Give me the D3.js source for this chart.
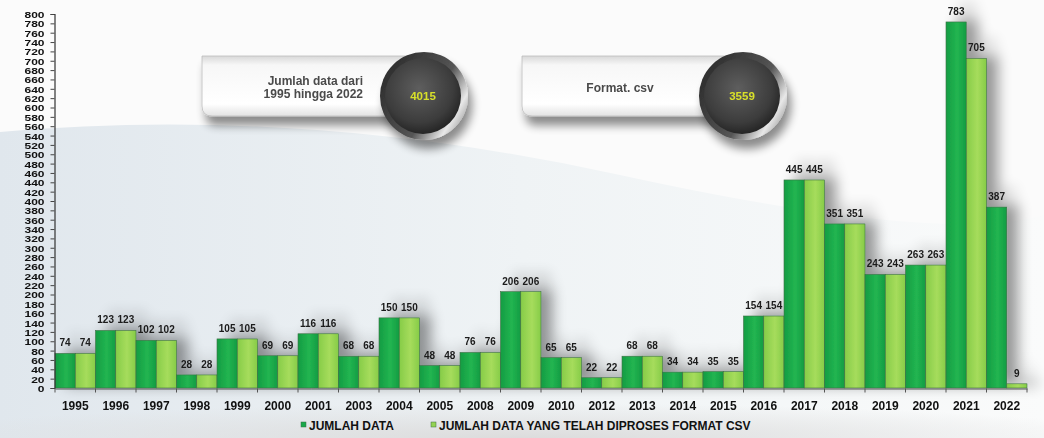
<!DOCTYPE html>
<html>
<head>
<meta charset="utf-8">
<script src="https://cdn.jsdelivr.net/npm/d3@7/dist/d3.min.js"></script>
<style>
  body { margin: 0; background: #fff; }
  svg { display: block; font-family: "Liberation Sans", Arial, sans-serif; }
</style>
</head>
<body>
<svg width="1044" height="438"></svg>
<script>
// data
var years = ["1995", "1996", "1997", "1998", "1999", "2000", "2001", "2003", "2004", "2005", "2008", "2009",
  "2010", "2012", "2013", "2014", "2015", "2016", "2017", "2018", "2019", "2020", "2021", "2022"];
var jumlahData = [74, 123, 102, 28, 105, 69, 116, 68, 150, 48, 76, 206, 65, 22, 68, 34, 35, 154, 445, 351, 243, 263, 783, 387];
var csvData = [74, 123, 102, 28, 105, 69, 116, 68, 150, 48, 76, 206, 65, 22, 68, 34, 35, 154, 445, 351, 243, 263, 705, 9];
var seriesNames = ["JUMLAH DATA", "JUMLAH DATA YANG TELAH DIPROSES FORMAT CSV"];
var badgeTexts = [["Jumlah data dari", "1995 hingga 2022"], ["Format. csv"]];
var badgeValues = ["4015", "3559"];

var svg = d3.select("svg");
var defs = svg.append("defs");

// background
var bg = defs.append("linearGradient").attr("id", "bgSwoosh").attr("x1", 0).attr("x2", 1).attr("y1", 0).attr("y2", 0);
bg.append("stop").attr("offset", 0).attr("stop-color", "#e0e7ed");
bg.append("stop").attr("offset", 0.5).attr("stop-color", "#eff3f5");
bg.append("stop").attr("offset", 1).attr("stop-color", "#fafbfb");
var bgBottom = defs.append("radialGradient").attr("id", "bgBottom").attr("cx", 0.5).attr("cy", 1).attr("r", 0.6);
bgBottom.append("stop").attr("offset", 0).attr("stop-color", "#dcdcdc");
bgBottom.append("stop").attr("offset", 1).attr("stop-color", "#dcdcdc").attr("stop-opacity", 0);

svg.append("rect").attr("width", 1044).attr("height", 438).attr("fill", "#fbfbfb");
svg.append("path").attr("d", "M0,132 Q300,105 620,175 T1044,215 L1044,438 L0,438 Z").attr("fill", "url(#bgSwoosh)");
svg.append("rect").attr("x", 0).attr("y", 380).attr("width", 1044).attr("height", 58).attr("fill", "url(#bgBottom)");

// gradients for bars
function barGrad(id, edge, mid) {
  var g = defs.append("linearGradient").attr("id", id).attr("x1", 0).attr("x2", 1).attr("y1", 0).attr("y2", 0);
  g.append("stop").attr("offset", 0).attr("stop-color", edge);
  g.append("stop").attr("offset", 0.55).attr("stop-color", mid);
  g.append("stop").attr("offset", 1).attr("stop-color", edge);
}
barGrad("gDark", "#149c42", "#22b551");
barGrad("gLight", "#86cc48", "#a6dc5c");
var colors = ["url(#gDark)", "url(#gLight)"];
var legendColors = ["#1aa84a", "#94d352"];

var shadow = defs.append("filter").attr("id", "shadow").attr("x", -0.5).attr("y", -0.5).attr("width", 2).attr("height", 2);
shadow.append("feGaussianBlur").attr("in", "SourceAlpha").attr("stdDeviation", 7);
shadow.append("feOffset").attr("dx", 11).attr("dy", -3).attr("result", "ob");
shadow.append("feComponentTransfer").append("feFuncA").attr("type", "linear").attr("slope", 0.4);
var sm = shadow.append("feMerge");
sm.append("feMergeNode");
sm.append("feMergeNode").attr("in", "SourceGraphic");

var x = d3.scaleBand().domain(years).range([55, 1027]).padding(0);
var xs = d3.scaleBand().domain([0, 1]).range([0, x.bandwidth()]).padding(0);
var y = d3.scaleLinear().domain([0, 800]).range([388, 14]);

// bars
var rows = years.map(function (yr, i) { return { year: yr, vals: [jumlahData[i], csvData[i]] }; });
var barLayer = svg.append("g").attr("filter", "url(#shadow)");
var grp = barLayer.selectAll("g.yr").data(rows).enter().append("g").attr("class", "yr")
  .attr("transform", function (d) { return "translate(" + x(d.year) + ",0)"; });
grp.selectAll("rect").data(function (d) { return d.vals; }).enter().append("rect")
  .attr("x", function (d, i) { return xs(i); })
  .attr("y", function (d) { return y(d); })
  .attr("width", xs.bandwidth())
  .attr("height", function (d) { return y(0) - y(d); })
  .attr("fill", function (d, i) { return colors[i]; })
  .attr("stroke", "#3d6e45").attr("stroke-width", 0.6);

// value labels
grp.selectAll("text").data(function (d) { return d.vals; }).enter().append("text")
  .attr("x", function (d, i) { return xs(i) + xs.bandwidth() / 2; })
  .attr("y", function (d) { return y(d) - 7; })
  .attr("text-anchor", "middle")
  .attr("font-size", 10).attr("font-weight", "bold").attr("fill", "#1a1a1a")
  .text(function (d) { return d; });

// y axis
var yAxis = svg.append("g").attr("transform", "translate(54.5,0)")
  .call(d3.axisLeft(y).tickValues(d3.range(0, 801, 20)).tickSize(4).tickPadding(6));
yAxis.select(".domain").attr("stroke", "#333").attr("stroke-width", 1.2);
yAxis.selectAll(".tick line").attr("stroke", "#444");
yAxis.selectAll("text").attr("font-size", 12).attr("font-weight", "bold").attr("fill", "#111")
  .attr("font-family", "'Liberation Sans', Arial, sans-serif")
  .attr("dy", "0.36em").attr("transform", "scale(1,0.8)");

// x axis
var xAxis = svg.append("g").attr("transform", "translate(0,388.5)")
  .call(d3.axisBottom(x).tickSize(0).tickPadding(13));
xAxis.select(".domain").attr("stroke", "#555").attr("stroke-width", 1);
xAxis.selectAll("text").attr("font-size", 12).attr("font-weight", "bold").attr("fill", "#111")
  .attr("font-family", "'Liberation Sans', Arial, sans-serif");
xAxis.selectAll("line.sep").data(years.concat(["end"])).enter().append("line").attr("class", "sep")
  .attr("x1", function (d) { return d === "end" ? 1027 : x(d); })
  .attr("x2", function (d) { return d === "end" ? 1027 : x(d); })
  .attr("y1", 0).attr("y2", 4).attr("stroke", "#555");

// legend
var legendX = [301, 431];
var legend = svg.append("g").selectAll("g").data(seriesNames).enter().append("g")
  .attr("transform", function (d, i) { return "translate(" + legendX[i] + ",422)"; });
legend.append("rect").attr("width", 5).attr("height", 5).attr("y", 0)
  .attr("fill", function (d, i) { return legendColors[i]; }).attr("stroke", "#3d6e45").attr("stroke-width", 0.5);
legend.append("text").attr("x", 8).attr("y", 7.5).attr("font-size", 12).attr("font-weight", "bold")
  .attr("fill", "#111").text(function (d) { return d; });

// badges
var bShadow = defs.append("filter").attr("id", "bShadow").attr("x", -0.3).attr("y", -0.3).attr("width", 1.6).attr("height", 1.8);
bShadow.append("feGaussianBlur").attr("in", "SourceAlpha").attr("stdDeviation", 5);
bShadow.append("feOffset").attr("dx", 4).attr("dy", 9).attr("result", "ob");
bShadow.append("feComponentTransfer").append("feFuncA").attr("type", "linear").attr("slope", 0.45);
var bm = bShadow.append("feMerge");
bm.append("feMergeNode");
bm.append("feMergeNode").attr("in", "SourceGraphic");

var panelGrad = defs.append("linearGradient").attr("id", "panel").attr("x1", 0).attr("x2", 0).attr("y1", 0).attr("y2", 1);
panelGrad.append("stop").attr("offset", 0).attr("stop-color", "#d8d8d8");
panelGrad.append("stop").attr("offset", 0.15).attr("stop-color", "#f7f7f7");
panelGrad.append("stop").attr("offset", 0.8).attr("stop-color", "#ffffff");
panelGrad.append("stop").attr("offset", 1).attr("stop-color", "#e2e2e2");

var knob = defs.append("radialGradient").attr("id", "knob").attr("cx", 0.45).attr("cy", 0.4).attr("r", 0.6);
knob.append("stop").attr("offset", 0).attr("stop-color", "#5e5e5e");
knob.append("stop").attr("offset", 0.75).attr("stop-color", "#3c3c3c");
knob.append("stop").attr("offset", 1).attr("stop-color", "#262626");
var ring = defs.append("linearGradient").attr("id", "ring").attr("x1", 0).attr("x2", 1).attr("y1", 0.2).attr("y2", 0.8);
ring.append("stop").attr("offset", 0).attr("stop-color", "#2a2a2a");
ring.append("stop").attr("offset", 0.6).attr("stop-color", "#555");
ring.append("stop").attr("offset", 0.85).attr("stop-color", "#e8e8e8");
ring.append("stop").attr("offset", 1).attr("stop-color", "#9a9a9a");

var badgeX = [202, 522];
var circleX = [424, 743];
var badges = svg.append("g").selectAll("g").data(badgeValues).enter().append("g");
badges.each(function (v, i) {
  var g = d3.select(this);
  var left = badgeX[i], right = circleX[i];
  g.append("path")
    .attr("d", "M" + left + ",56 L" + right + ",56 L" + right + ",116 L" + (left + 10) + ",116 Q" + left + ",116 " + left + ",106 Z")
    .attr("fill", "url(#panel)").attr("stroke", "#bcbcbc").attr("stroke-width", 0.8)
    .attr("filter", "url(#bShadow)");
  var lines = badgeTexts[i];
  g.selectAll("text.lbl").data(lines).enter().append("text").attr("class", "lbl")
    .attr("x", i === 0 ? 363 : 620)
    .attr("y", function (d, j) { return (lines.length === 1 ? 92 : 85) + j * 13; })
    .attr("text-anchor", i === 0 ? "end" : "middle")
    .attr("font-size", 12).attr("font-weight", "bold").attr("fill", "#4a4a4a")
    .text(function (d) { return d; });
  g.append("circle").attr("cx", right).attr("cy", 96).attr("r", 44)
    .attr("fill", "url(#ring)").attr("filter", "url(#bShadow)");
  g.append("circle").attr("cx", right - 1).attr("cy", 96).attr("r", 38).attr("fill", "url(#knob)");
  g.append("text").attr("x", right - 1).attr("y", 100).attr("text-anchor", "middle")
    .attr("font-size", 11.5).attr("font-weight", "bold").attr("fill", "#d8e02a").text(v);
});
</script>
</body>
</html>
